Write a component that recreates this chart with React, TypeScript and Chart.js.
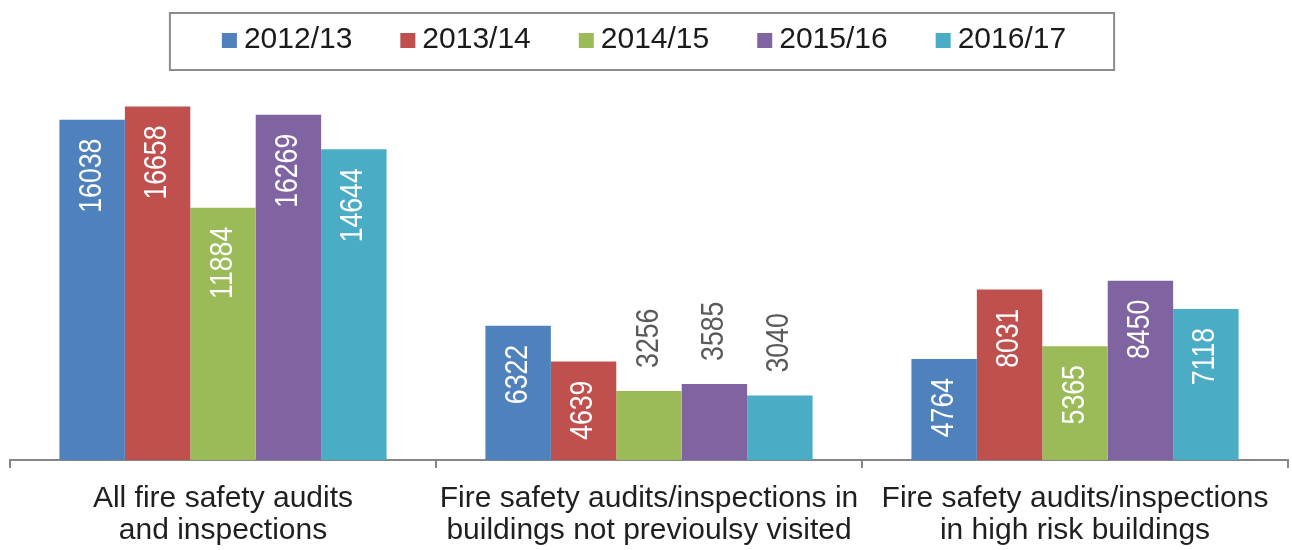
import React, { useEffect, useRef } from "react";
import { Chart, registerables } from "chart.js";

Chart.register(...registerables);

const categories: string[][] = [
  ["All fire safety audits", "and inspections"],
  ["Fire safety audits/inspections in", "buildings not previoulsy visited"],
  ["Fire safety audits/inspections", "in high risk buildings"],
];
const seriesLabels = ["2012/13", "2013/14", "2014/15", "2015/16", "2016/17"];
const s2012 = [16038, 6322, 4764];
const s2013 = [16658, 4639, 8031];
const s2014 = [11884, 3256, 5365];
const s2015 = [16269, 3585, 8450];
const s2016 = [14644, 3040, 7118];
const seriesColors = ["#4F81BD", "#C0504D", "#9BBB59", "#8064A2", "#4BACC6"];

const FONT = '"Liberation Sans", Arial, sans-serif';

const legendPlugin = {
  id: "boxLegend",
  afterDraw(chart: any) {
    const ctx = chart.ctx;
    ctx.save();
    ctx.font = `30px ${FONT}`;
    const sq = 15, gap = 7, spacing = 48, padL = 52, padR = 48;
    const widths = chart.data.datasets.map((d: any) => ctx.measureText(d.label).width);
    const total = widths.reduce((a: number, w: number) => a + sq + gap + w, 0) + spacing * (widths.length - 1);
    const cx = 644;
    let x = cx - total / 2;
    const boxL = x - padL, boxR = x + total + padR;
    ctx.strokeStyle = "#8c8c8c";
    ctx.lineWidth = 2;
    ctx.strokeRect(boxL, 13, boxR - boxL, 57);
    const cy = 40;
    chart.data.datasets.forEach((d: any, i: number) => {
      ctx.fillStyle = d.backgroundColor;
      ctx.fillRect(x, cy - 7, sq, sq);
      x += sq + gap;
      ctx.fillStyle = "#1a1a1a";
      ctx.textAlign = "left";
      ctx.textBaseline = "middle";
      ctx.fillText(d.label, x, cy);
      x += widths[i] + spacing;
    });
    ctx.restore();
  },
};

const LABEL_SCALE = 0.86;

const labelPlugin = {
  id: "barLabels",
  afterDatasetsDraw(chart: any) {
    const ctx = chart.ctx;
    ctx.save();
    ctx.font = `31px ${FONT}`;
    ctx.textBaseline = "middle";
    chart.data.datasets.forEach((d: any, di: number) => {
      const meta = chart.getDatasetMeta(di);
      meta.data.forEach((bar: any, i: number) => {
        const txt = String(d.data[i]);
        const w = ctx.measureText(txt).width * LABEL_SCALE;
        const h = bar.base - bar.y;
        ctx.save();
        if (w + 29 <= h) {
          ctx.translate(bar.x, bar.y + 19);
          ctx.rotate(-Math.PI / 2);
          ctx.scale(LABEL_SCALE, 1);
          ctx.textAlign = "right";
          ctx.fillStyle = "#ffffff";
        } else {
          ctx.translate(bar.x, bar.y - 23);
          ctx.rotate(-Math.PI / 2);
          ctx.scale(LABEL_SCALE, 1);
          ctx.textAlign = "left";
          ctx.fillStyle = "#595959";
        }
        ctx.fillText(txt, 0, 0);
        ctx.restore();
      });
    });
    ctx.restore();
  },
};

export default function App() {
  const ref = useRef<HTMLCanvasElement>(null);
  useEffect(() => {
    if (!ref.current) return;
    const series = [s2012, s2013, s2014, s2015, s2016];
    const chart = new Chart(ref.current, {
      type: "bar",
      data: {
        labels: categories,
        datasets: series.map((s, i) => ({
          label: seriesLabels[i],
          data: s,
          backgroundColor: seriesColors[i],
          borderWidth: 0,
          categoryPercentage: 0.768,
          barPercentage: 1,
        })),
      },
      options: {
        animation: false,
        responsive: true,
        maintainAspectRatio: false,
        layout: { padding: { top: 78, left: 10, right: 4, bottom: 0 } },
        plugins: { legend: { display: false }, tooltip: { enabled: false } },
        scales: {
          x: {
            afterFit: (scale: any) => {
              scale.height = 90;
            },
            grid: {
              offset: true,
              drawOnChartArea: false,
              drawTicks: true,
              tickLength: 8,
              color: "#868686",
              lineWidth: 2,
            },
            border: { display: true, color: "#868686", width: 2 },
            ticks: {
              color: "#1f1f1f",
              font: { family: FONT, size: 30, lineHeight: 1.07 },
              padding: 15,
              maxRotation: 0,
              autoSkip: false,
            },
          },
          y: { display: false, min: 0, max: 18000 },
        },
      },
      plugins: [legendPlugin, labelPlugin],
    });
    return () => chart.destroy();
  }, []);
  return (
    <div style={{ position: "absolute", left: 0, top: 0, width: 1292, height: 550, background: "#fff" }}>
      <canvas ref={ref} />
    </div>
  );
}
